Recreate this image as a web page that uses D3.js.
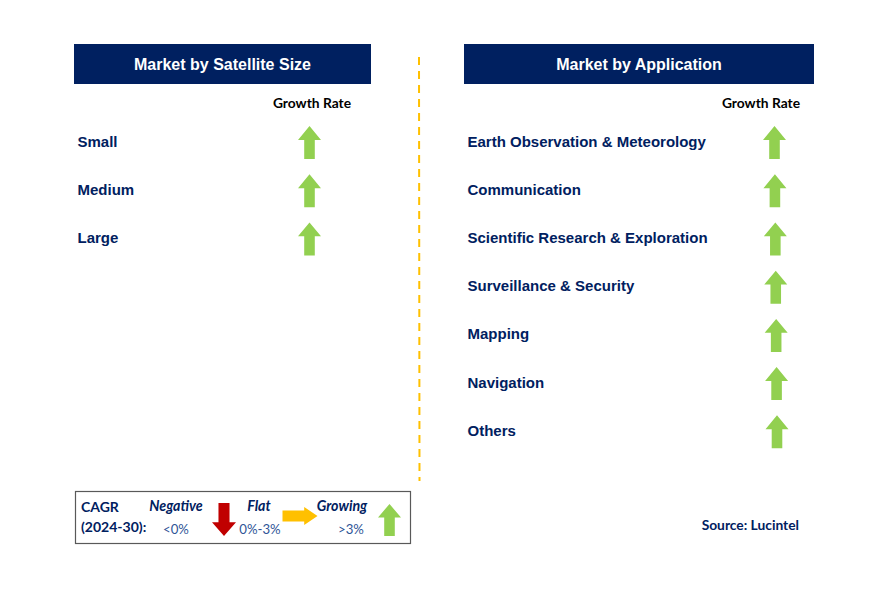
<!DOCTYPE html>
<html><head><meta charset="utf-8">
<script src="https://cdn.jsdelivr.net/npm/d3@7"></script>
<style>body{margin:0;background:#fff}svg{display:block}</style>
</head><body>
<script>
const sizeCategories = ["Small", "Medium", "Large"];
const sizeGrowth = ["growing", "growing", "growing"];
const appCategories = ["Earth Observation & Meteorology", "Communication", "Scientific Research & Exploration", "Surveillance & Security", "Mapping", "Navigation", "Others"];
const appGrowth = ["growing", "growing", "growing", "growing", "growing", "growing", "growing"];
const legendItems = ["Negative", "Flat", "Growing"];
const legendRanges = ["<0%", "0%-3%", ">3%"];
const legendKinds = ["negative", "flat", "growing"];

const W = 878, H = 589;
const navy = "#002060";
const colors = {growing: "#92d050", flat: "#ffc000", negative: "#c00000"};
const svg = d3.select("body").append("svg").attr("width", W).attr("height", H);

function upArrow(w, h, swr = 0.46, hhr = 0.42) {
  const sw = w * swr, hh = h * hhr;
  return `M0,${-h/2} L${w/2},${-h/2+hh} L${sw/2},${-h/2+hh} L${sw/2},${h/2} L${-sw/2},${h/2} L${-sw/2},${-h/2+hh} L${-w/2},${-h/2+hh} Z`;
}
function arrowRot(kind) { return kind === "growing" ? 0 : kind === "negative" ? 180 : 90; }

function panel(x0, x1, title, cats, growth, arrowX0, arrowX1, grX) {
  svg.append("rect").attr("x", x0).attr("y", 44).attr("width", x1 - x0).attr("height", 40).attr("fill", navy);
  svg.append("text").attr("x", (x0 + x1) / 2).attr("y", 70).attr("text-anchor", "middle")
    .attr("fill", "#fff").attr("font-family", "Liberation Sans, Arial, sans-serif")
    .attr("font-weight", "bold").attr("font-size", 16).text(title);
  svg.append("text").attr("x", grX).attr("y", 108).attr("text-anchor", "middle")
    .attr("fill", "#000").attr("font-family", "Lato, sans-serif").attr("font-weight", "bold")
    .attr("font-size", 13.8).text("Growth Rate");
  const y = d3.scaleBand().domain(cats).range([118, 118 + 48.2 * cats.length]);
  const ax = d3.scaleLinear().domain([0, Math.max(1, cats.length - 1)]).range([arrowX0, arrowX1]);
  const g = svg.append("g");
  g.selectAll("text.lab").data(cats).join("text").attr("class", "lab")
    .attr("x", x0 + 3.5).attr("y", d => y(d) + y.bandwidth() / 2 + 4.5)
    .attr("fill", navy).attr("font-family", "Liberation Sans, Arial, sans-serif")
    .attr("font-weight", "bold").attr("font-size", 15).text(d => d);
  g.selectAll("path.arr").data(cats).join("path").attr("class", "arr")
    .attr("d", upArrow(23, 33))
    .attr("transform", (d, i) => `translate(${ax(i)},${y(d) + y.bandwidth() / 2 + 0.5}) rotate(${arrowRot(growth[i])})`)
    .attr("fill", (d, i) => colors[growth[i]]);
}

panel(74, 371, "Market by Satellite Size", sizeCategories, sizeGrowth, 309.5, 309.5, 312);
panel(464, 814, "Market by Application", appCategories, appGrowth, 774.5, 777, 761);

svg.append("line").attr("x1", 419).attr("x2", 419.5).attr("y1", 57).attr("y2", 481)
  .attr("stroke", "#ffc000").attr("stroke-width", 2).attr("stroke-dasharray", "8,6");

svg.append("rect").attr("x", 75.5).attr("y", 491.5).attr("width", 335).attr("height", 52)
  .attr("fill", "#fff").attr("stroke", "#595959").attr("stroke-width", 1.2);
const lf = "Lato, Open Sans, sans-serif";
svg.append("text").attr("x", 81).attr("y", 512).attr("fill", navy).attr("font-family", lf)
  .attr("font-size", 14).attr("font-weight", "bold").text("CAGR");
svg.append("text").attr("x", 81).attr("y", 532).attr("fill", navy).attr("font-family", lf)
  .attr("font-size", 14).attr("font-weight", "bold").text("(2024-30):");
const lx = d3.scaleOrdinal().domain(legendKinds).range([176, 259, 342]);
const rx = d3.scaleOrdinal().domain(legendKinds).range([176, 260, 351]);
const arX = d3.scaleOrdinal().domain(legendKinds).range([224, 300, 389.5]);
const arY = d3.scaleOrdinal().domain(legendKinds).range([519.5, 516, 520]);
const arS = d3.scaleOrdinal().domain(legendKinds).range([[24, 33, 0.46, 0.42], [18, 35, 0.62, 0.38], [23, 32, 0.46, 0.42]]);
svg.selectAll("text.li").data(legendKinds).join("text").attr("class", "li")
  .attr("x", d => lx(d)).attr("y", 511).attr("text-anchor", "middle")
  .attr("fill", navy).attr("font-family", lf).attr("font-size", 14.2)
  .attr("font-style", "italic").attr("font-weight", "bold").text((d, i) => legendItems[i]);
svg.selectAll("text.lr").data(legendKinds).join("text").attr("class", "lr")
  .attr("x", d => rx(d)).attr("y", 534).attr("text-anchor", "middle")
  .attr("fill", "#2f5597").attr("font-family", lf).attr("font-size", 13.2)
  .text((d, i) => legendRanges[i]);
svg.selectAll("path.la").data(legendKinds).join("path").attr("class", "la")
  .attr("d", d => upArrow(...arS(d)))
  .attr("transform", d => `translate(${arX(d)},${arY(d)}) rotate(${arrowRot(d)})`)
  .attr("fill", d => colors[d]);

svg.append("text").attr("x", 799).attr("y", 530).attr("text-anchor", "end")
  .attr("fill", navy).attr("font-family", lf).attr("font-weight", "bold").attr("font-size", 13.8)
  .text("Source: Lucintel");
</script>
</body></html>
